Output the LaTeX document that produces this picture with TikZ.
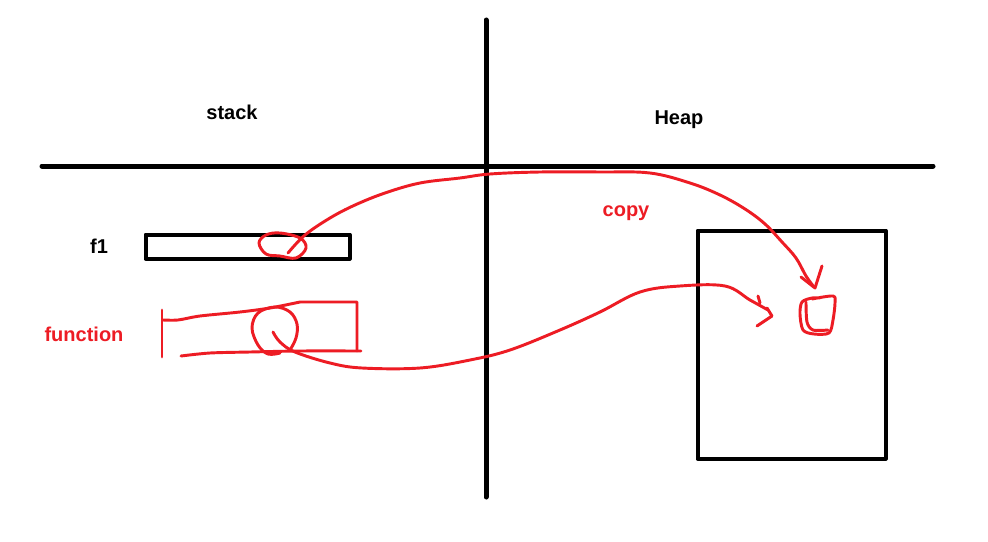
\documentclass[tikz,border=0pt]{standalone}
\usepackage{fontspec}
\setmainfont{Liberation Sans}
\definecolor{penred}{RGB}{237,28,36}
\begin{document}
\begin{tikzpicture}[x=0.75pt,y=-0.75pt,line join=round,line cap=round]
\tikzset{
  axis/.style={line width=3.75pt},
  box/.style={draw,line width=3pt,inner sep=0pt,outer sep=0pt,anchor=north west},
  redink/.style={draw=penred,line width=2.2pt},
  lbl/.style={font=\bfseries\fontsize{15}{18}\selectfont,inner sep=0pt},
  redlbl/.style={lbl,text=penred}
}
\useasboundingbox[fill=white] (0,0) rectangle (988,542);
% axes
\coordinate (vtop) at (486,20);
\coordinate (vbot) at (486,497);
\coordinate (hl) at (42,166);
\coordinate (hr) at (933,166);
\draw[axis] (vtop) -- (vbot);
\draw[axis] (hl) -- (hr);
% labels
\node[lbl] (stack) at (232,112) {stack};
\node[lbl] (heap) at (679,120) {Heap};
\node[lbl] (f1) at (99,246) {f1};
\node[redlbl] (func) at (84,334) {function};
\node[redlbl] (copy) at (626,213) {copy};
% boxes
\node[box,minimum width=153pt,minimum height=18pt] (f1box) at (145.5,234.5) {};
\node[box,minimum width=141pt,minimum height=171pt] (heapbox) at (697.5,230.5) {};
% function scribble
\coordinate (bar1) at (162,310);
\coordinate (bar2) at (162,357);
\draw[redink] (bar1) -- (bar2);
\draw[redink] plot[smooth,tension=0.5] coordinates {(163,320) (178,320) (200,316) (240,312) (270,308) (300,302)} -- (357,302) -- (357,351);
\draw[redink] plot[smooth,tension=0.5] coordinates {(361,351) (300,351) (250,352) (210,353) (181,356)};
% loop + trail from function
\draw[redink] plot[smooth,tension=0.6] coordinates {(290,350) (296,338) (297,324) (290,312) (275,307) (258,313) (252,328) (258,345) (268,354) (280,353)};
\draw[redink] plot[smooth,tension=0.6] coordinates {(273,332) (280,342) (295,352) (330,363) (362,368) (420,368) (470,360) (510,350) (560,330) (600,312) (640,292) (680,286) (725,286) (750,300) (768,310)};
\coordinate (ah1) at (757,326);
\coordinate (ah2) at (772,316);
\coordinate (ah3) at (767,308);
\draw[redink] (ah1) -- (ah2) -- (ah3);
\draw[redink] (758,296) -- (760,303);
% loop + trail from f1
\draw[redink] plot[smooth cycle,tension=0.6] coordinates {(280,233) (300,238) (306,248) (296,258) (280,256) (266,254) (259,243) (266,235)};
\draw[redink] plot[smooth,tension=0.6] coordinates {(288,253) (305,235) (330,218) (355,205) (385,193) (420,183) (460,178) (490,174) (540,172) (600,172) (650,173) (690,183) (720,195) (745,209) (765,224) (782,242) (796,258) (806,276) (814,287)};
\coordinate (bh1) at (801,277);
\coordinate (bh2) at (815,288);
\coordinate (bh3) at (822,266);
\draw[redink] (bh1) -- (bh2) -- (bh3);
% target scribble
\draw[redink] plot[smooth,tension=0.5] coordinates {(812,299) (833,296) (835,303) (833,320) (829,333) (814,334) (803,330) (800,314) (802,302) (812,298) (820,298)};
\draw[redink] plot[smooth,tension=0.5] coordinates {(806,302) (807,322) (813,330) (828,330)};
\end{tikzpicture}
\end{document}
